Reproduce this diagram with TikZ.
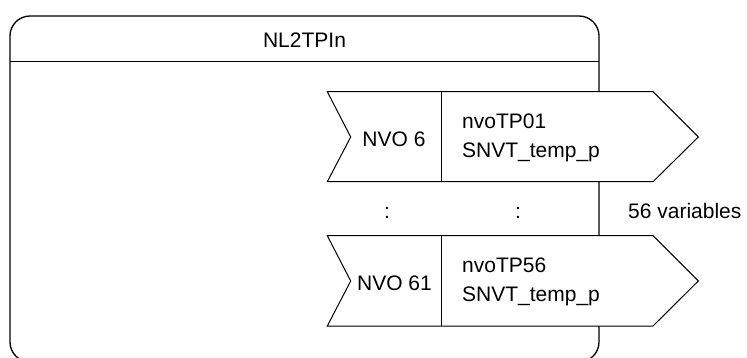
\documentclass[tikz,border=0pt]{standalone}
\usepackage{fontspec}
\setmainfont{Liberation Sans}
\begin{document}
\begin{tikzpicture}[x=1pt,y=-1pt,
  lbl/.style={inner sep=0pt,font=\fontsize{21}{29}\selectfont},
  frame/.style={draw=black,line width=1.3pt},
  flag/.style={draw=black,fill=white,line width=1pt,line join=miter}]
\useasboundingbox (0,0) rectangle (747,358);
\clip (0,0) rectangle (747,358);
% outer rounded frame
\draw[frame,rounded corners=20pt] (10,16) rectangle (599,362);
\draw[frame] (10,61.5) -- (599,61.5);
\node[lbl] (title) at (304.5,40) {NL2TPIn};
% top flag
\draw[flag] (327.3,91.7) -- (653,91.7) -- (698.3,137) -- (653,181.7) -- (327.3,181.7) -- (350.7,137) -- cycle;
\draw[flag] (441,91.7) -- (441,181.7);
\node[lbl] (nvo6) at (394,139) {NVO 6};
\node[lbl,anchor=west,align=left] (tp01) at (462,138) {nvoTP01\\SNVT\_temp\_p};
% dots
\node[lbl] (d1) at (387,212.5) {:};
\node[lbl] (d2) at (518,212.5) {:};
\node[lbl,anchor=west] (vars) at (628,211) {56 variables};
% bottom flag
\draw[flag] (327.3,235.7) -- (653,235.7) -- (698.3,281) -- (653,326) -- (327.3,326) -- (350.7,281) -- cycle;
\draw[flag] (441,235.7) -- (441,326);
\node[lbl] (nvo61) at (394.5,283) {NVO 61};
\node[lbl,anchor=west,align=left] (tp56) at (462,282) {nvoTP56\\SNVT\_temp\_p};
\end{tikzpicture}
\end{document}
